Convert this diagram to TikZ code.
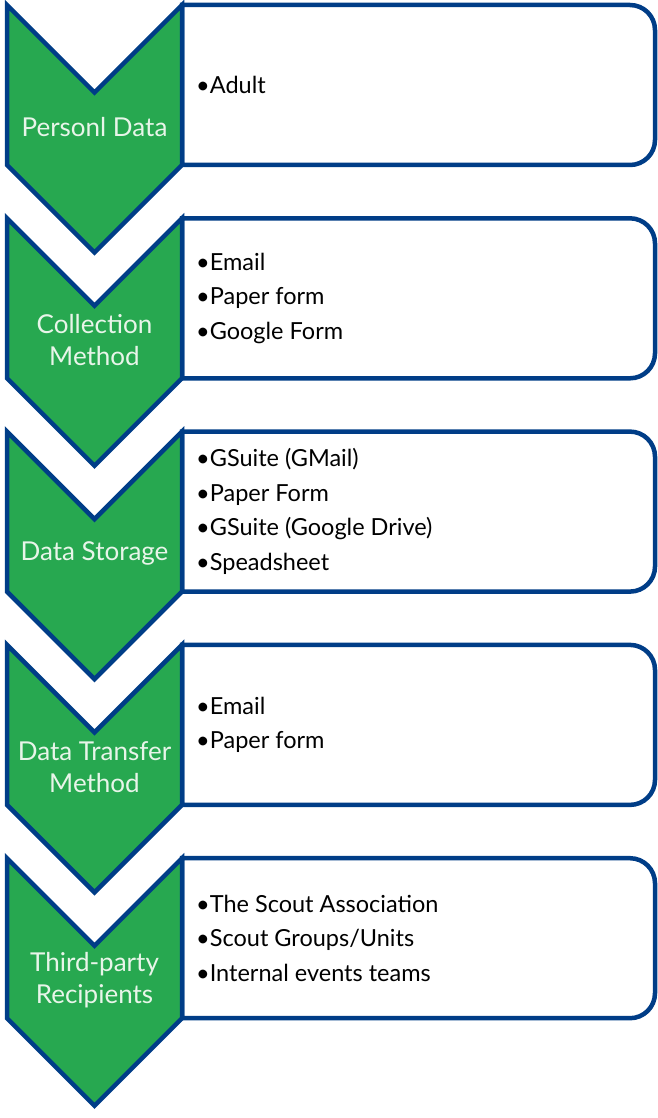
\documentclass[tikz,border=0pt]{standalone}
\usepackage{fontspec}
\setmainfont{Lato}
\definecolor{chevgreen}{RGB}{39,168,80}
\definecolor{edgeblue}{RGB}{0,61,135}
\definecolor{chevtext}{RGB}{232,245,233}
\begin{document}
\begin{tikzpicture}[x=1pt,y=-1pt,
  chev/.style={fill=chevgreen,draw=edgeblue,line width=4.5pt,line join=miter},
  itembox/.style={fill=white,draw=edgeblue,line width=4.5pt},
  chevlabel/.style={text=chevtext,align=center,inner sep=0pt,font=\fontsize{26}{32}\selectfont},
  itemlist/.style={text=black,align=left,anchor=west,inner sep=0pt,font=\fontsize{23.5}{34.5}\selectfont}]
\useasboundingbox (0,0) rectangle (657,1118);
\foreach \i/\lab/\items in {
  0/{Personl Data}/{•Adult},
  1/{Collection\\Method}/{•Email\\•Paper form\\•Google Form},
  2/{Data Storage}/{•GSuite (GMail)\\•Paper Form\\•GSuite (Google Drive)\\•Speadsheet},
  3/{Data Transfer\\Method}/{•Email\\•Paper form},
  4/{Third-party\\Recipients}/{•The Scout Association\\•Scout Groups/Units\\•Internal events teams}}{
  \pgfmathsetmacro{\t}{5+213.3*\i}
  \draw[itembox] (182,\t) -- (630,\t) arc[start angle=90,end angle=0,x radius=25,y radius=-25]
     -- (655,\t+135) arc[start angle=0,end angle=-90,x radius=25,y radius=-25] -- (182,\t+160) -- cycle;
  \node[itemlist] (items\i) at (196,\t+80) {\items};
  \draw[chev] (7,\t) -- (94.5,\t+87.5) -- (182,\t) -- (182,\t+160) -- (94.5,\t+247.5) -- (7,\t+160) -- cycle;
  \node[chevlabel] (lab\i) at (94.5,\t+122) {\lab};
}
\end{tikzpicture}
\end{document}
